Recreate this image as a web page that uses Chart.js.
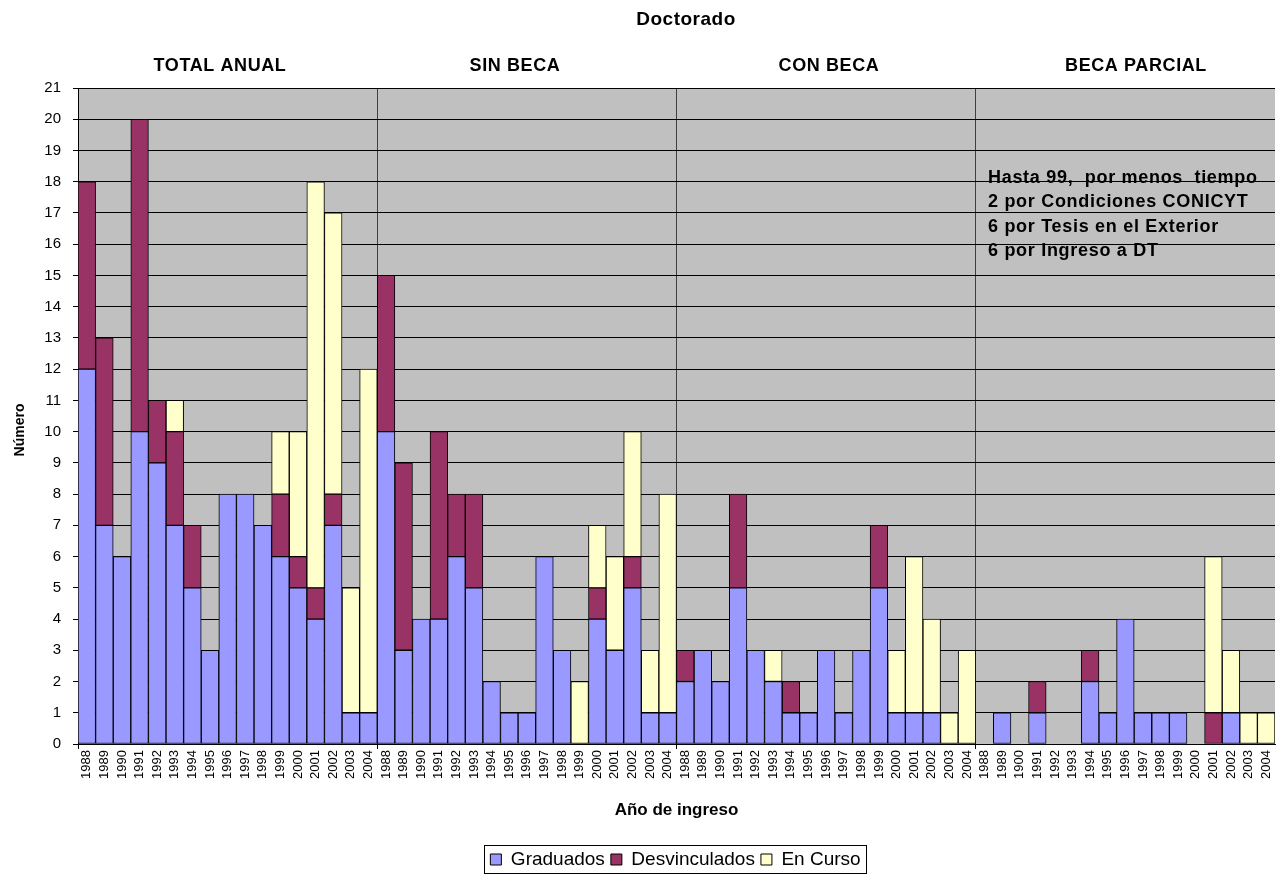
<!DOCTYPE html>
<html>
<head>
<meta charset="utf-8">
<title>Doctorado</title>
<script src="https://cdn.jsdelivr.net/npm/chart.js@4.4.1/dist/chart.umd.min.js"></script>
<style>
  html, body { margin: 0; padding: 0; background: #fff; }
  #wrap { width: 1278px; height: 876px; position: relative; }
</style>
</head>
<body>
<div id="wrap"><canvas id="chart"></canvas></div>
<script>
  "use strict";

  // year labels for each block (the last block really reads "1900" in the source)
  const years = ["1988", "1989", "1990", "1991", "1992", "1993", "1994", "1995", "1996",
    "1997", "1998", "1999", "2000", "2001", "2002", "2003", "2004"];
  const yearsParcial = ["1988", "1989", "1900", "1991", "1992", "1993", "1994", "1995", "1996",
    "1997", "1998", "1999", "2000", "2001", "2002", "2003", "2004"];

  const groupTitles = ["TOTAL ANUAL", "SIN BECA", "CON BECA", "BECA PARCIAL"];

  // TOTAL ANUAL
  const gradTotal = [12, 7, 6, 10, 9, 7, 5, 3, 8, 8, 7, 6, 5, 4, 7, 1, 1];
  const desvTotal = [6, 6, 0, 10, 2, 3, 2, 0, 0, 0, 0, 2, 1, 1, 1, 0, 0];
  const cursoTotal = [0, 0, 0, 0, 0, 1, 0, 0, 0, 0, 0, 2, 4, 13, 9, 4, 11];

  // SIN BECA
  const gradSin = [10, 3, 4, 4, 6, 5, 2, 1, 1, 6, 3, 0, 4, 3, 5, 1, 1];
  const desvSin = [5, 6, 0, 6, 2, 3, 0, 0, 0, 0, 0, 0, 1, 0, 1, 0, 0];
  const cursoSin = [0, 0, 0, 0, 0, 0, 0, 0, 0, 0, 0, 2, 2, 3, 4, 2, 7];

  // CON BECA
  const gradCon = [2, 3, 2, 5, 3, 2, 1, 1, 3, 1, 3, 5, 1, 1, 1, 0, 0];
  const desvCon = [1, 0, 0, 3, 0, 0, 1, 0, 0, 0, 0, 2, 0, 0, 0, 0, 0];
  const cursoCon = [0, 0, 0, 0, 0, 1, 0, 0, 0, 0, 0, 0, 2, 5, 3, 1, 3];

  // BECA PARCIAL
  const gradParcial = [0, 1, 0, 1, 0, 0, 2, 1, 4, 1, 1, 1, 0, 0, 1, 0, 0];
  const desvParcial = [0, 0, 0, 1, 0, 0, 1, 0, 0, 0, 0, 0, 0, 1, 0, 0, 0];
  const cursoParcial = [0, 0, 0, 0, 0, 0, 0, 0, 0, 0, 0, 0, 0, 5, 2, 1, 1];

  const noteLines = [
    "Hasta 99,  por menos  tiempo",
    "2 por Condiciones CONICYT",
    "6 por Tesis en el Exterior",
    "6 por Ingreso a DT",
  ];

  const labels = [].concat(years, years, years, yearsParcial);
  const graduados = [].concat(gradTotal, gradSin, gradCon, gradParcial);
  const desvinculados = [].concat(desvTotal, desvSin, desvCon, desvParcial);
  const enCurso = [].concat(cursoTotal, cursoSin, cursoCon, cursoParcial);

  const FONT = "'Liberation Sans', Arial, sans-serif";
  const groupSize = years.length;

  function isGroupEdge(i) {
    return i % groupSize === 0;
  }

  const plotBackground = {
    id: "plotBackground",
    afterLayout(chart) {
      // legend sits a bit right of centre in the original
      const lg = chart.legend;
      if (lg) {
        lg.left += 38;
        lg.right += 38;
        lg.top += 3;
        lg.bottom += 3;
      }
    },
    beforeDraw(chart) {
      const { ctx, chartArea: a } = chart;
      ctx.save();
      ctx.fillStyle = "#C0C0C0";
      ctx.fillRect(a.left, a.top, a.right - a.left, a.bottom - a.top);
      ctx.restore();
    },
  };

  const extraText = {
    id: "extraText",
    afterDraw(chart) {
      const { ctx } = chart;
      ctx.save();
      ctx.fillStyle = "#000";
      ctx.textBaseline = "middle";

      ctx.textAlign = "center";
      ctx.font = "bold 19px " + FONT;
      ctx.letterSpacing = "0.5px";
      ctx.fillText("Doctorado", 686, 20);

      ctx.font = "bold 18px " + FONT;
      ctx.letterSpacing = "0.6px";
      const titleX = [220, 515, 829, 1136];
      groupTitles.forEach((t, i) => ctx.fillText(t, titleX[i], 66));

      ctx.textAlign = "left";
      ctx.font = "bold 18px " + FONT;
      ctx.letterSpacing = "0.7px";
      noteLines.forEach((t, i) => ctx.fillText(t, 988, 178 + i * 24.4));
      ctx.letterSpacing = "0px";

      // y axis title
      ctx.save();
      ctx.translate(20, 430);
      ctx.rotate(-Math.PI / 2);
      ctx.textAlign = "center";
      ctx.font = "bold 14px " + FONT;
      ctx.fillText("Número", 0, 0);
      ctx.restore();

      // box round the legend
      const boxes = chart.legend.legendHitBoxes;
      if (boxes && boxes.length) {
        const left = Math.min(...boxes.map((b) => b.left));
        const right = Math.max(...boxes.map((b) => b.left + b.width));
        const top = boxes[0].top;
        const h = boxes[0].height;
        ctx.strokeStyle = "#000";
        ctx.lineWidth = 1;
        ctx.strokeRect(Math.round(left - 6) + 0.5, Math.round(top - 5) + 0.5,
          Math.round(right - left + 12), Math.round(h + 9));
      }
      ctx.restore();
    },
  };

  const ctx = document.getElementById("chart").getContext("2d");
  new Chart(ctx, {
    type: "bar",
    data: {
      labels: labels,
      datasets: [
        {
          label: "Graduados",
          data: graduados,
          backgroundColor: "#9999FF",
          borderColor: "#000",
          borderWidth: 1,
          borderSkipped: false,
        },
        {
          label: "Desvinculados",
          data: desvinculados,
          backgroundColor: "#993366",
          borderColor: "#000",
          borderWidth: 1,
          borderSkipped: false,
        },
        {
          label: "En Curso",
          data: enCurso,
          backgroundColor: "#FFFFCC",
          borderColor: "#000",
          borderWidth: 1,
          borderSkipped: false,
        },
      ],
    },
    options: {
      responsive: true,
      maintainAspectRatio: false,
      animation: false,
      datasets: { bar: { barPercentage: 1, categoryPercentage: 1 } },
      layout: { padding: { left: 0, right: 3, top: 88, bottom: 0 } },
      plugins: {
        title: { display: false },
        tooltip: { enabled: false },
        legend: {
          position: "bottom",
          labels: {
            color: "#000",
            font: { family: FONT, size: 19 },
            boxWidth: 11,
            boxHeight: 11,
            padding: 6,
          },
        },
      },
      scales: {
        x: {
          stacked: true,
          afterFit(scale) {
            scale.height = 97;
            scale.paddingLeft = 0;
            scale.paddingRight = 0;
          },
          grid: {
            offset: true,
            lineWidth: 1,
            tickLength: 5,
            color: (c) => (isGroupEdge(c.index) ? "#404040" : "rgba(0,0,0,0)"),
            tickColor: (c) => (isGroupEdge(c.index) ? "#000" : "rgba(0,0,0,0)"),
          },
          border: { color: "#000", width: 1 },
          ticks: {
            autoSkip: false,
            minRotation: 90,
            maxRotation: 90,
            padding: 1,
            color: "#000",
            font: { family: FONT, size: 13 },
          },
          title: {
            display: true,
            text: "Año de ingreso",
            color: "#000",
            font: { family: FONT, size: 17, weight: "bold" },
            padding: { top: 0, bottom: 20 },
          },
        },
        y: {
          stacked: true,
          min: 0,
          max: 21,
          afterFit(scale) {
            scale.width = 78;
          },
          grid: {
            color: "#000",
            lineWidth: 1,
            tickLength: 5,
            tickColor: "#000",
          },
          border: { color: "#000", width: 1 },
          ticks: {
            stepSize: 1,
            padding: 12,
            color: "#000",
            font: { family: FONT, size: 15 },
          },
        },
      },
    },
    plugins: [plotBackground, extraText],
  });
</script>
</body>
</html>
